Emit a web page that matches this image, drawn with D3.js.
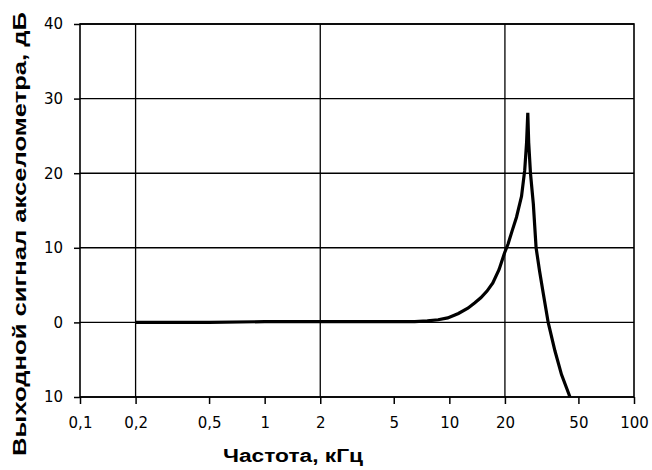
<!DOCTYPE html>
<html>
<head>
<meta charset="utf-8">
<script src="https://cdn.jsdelivr.net/npm/d3@7"></script>
<style>
html,body{margin:0;padding:0;background:#fff;}
svg{display:block;}
</style>
</head>
<body>
<svg id="chart" width="652" height="470"></svg>
<script>
// Data
const freqKHz = [0.2, 0.5, 1, 2, 5, 6.5, 7.6, 8.7, 9.8, 11.2, 12.6, 13.7, 14.8, 16, 17.2, 18.6, 19.9, 20.8, 21.9, 23.1, 24.6, 25.6, 26.2, 26.6, 26.9, 27.5, 28.5, 29.5, 30.8, 32.3, 34.3, 37.3, 40.5, 45.0];
const outputDb = [0, 0, 0.1, 0.1, 0.1, 0.1, 0.2, 0.35, 0.6, 1.2, 1.9, 2.6, 3.3, 4.2, 5.3, 7.1, 9.3, 10.5, 12.3, 14.1, 16.9, 20.4, 24.1, 28.1, 24.1, 20.0, 15.9, 10.0, 6.9, 3.8, 0, -3.8, -7.0, -10];
const xTickValues = [0.1, 0.2, 0.5, 1, 2, 5, 10, 20, 50, 100];
const xTickLabels = ["0,1", "0,2", "0,5", "1", "2", "5", "10", "20", "50", "100"];
const xGridValues = [0.2, 2, 20];
const yTickValues = [-10, 0, 10, 20, 30, 40];
const yTickLabels = ["10", "0", "10", "20", "30", "40"];
const xTitle = "Частота, кГц";
const yTitle = "Выходной сигнал акселометра, дБ";

const svg = d3.select("#chart");
const pLeft = 80, pRight = 634, pTop = 24, pBottom = 397;

const x = d3.scaleLog().domain([0.1, 100]).range([pLeft, pRight]);
const y = d3.scaleLinear().domain([-10, 40]).range([pBottom, pTop]);

// horizontal gridlines
svg.append("g").selectAll("line").data(yTickValues).join("line")
  .attr("x1", pLeft).attr("x2", pRight)
  .attr("y1", d => y(d)).attr("y2", d => y(d))
  .attr("stroke", "#000").attr("stroke-width", 1.4);

// vertical gridlines
svg.append("g").selectAll("line").data(xGridValues).join("line")
  .attr("x1", d => x(d)).attr("x2", d => x(d))
  .attr("y1", pTop).attr("y2", pBottom)
  .attr("stroke", "#000").attr("stroke-width", 1.3);

// frame
svg.append("rect").attr("x", pLeft).attr("y", pTop)
  .attr("width", pRight - pLeft).attr("height", pBottom - pTop)
  .attr("fill", "none").attr("stroke", "#000").attr("stroke-width", 1.6);

// axes
const xAxis = d3.axisBottom(x).tickValues(xTickValues)
  .tickFormat((d, i) => xTickLabels[i]).tickSize(7).tickSizeOuter(0).tickPadding(13);
const gx = svg.append("g").attr("transform", `translate(0,${pBottom})`).call(xAxis);
gx.select(".domain").remove();
gx.selectAll(".tick line").attr("stroke", "#000").attr("stroke-width", 1.5);
gx.selectAll(".tick text").attr("font-family", "DejaVu Sans, sans-serif")
  .attr("font-size", 15).attr("fill", "#000");

const yAxis = d3.axisLeft(y).tickValues(yTickValues)
  .tickFormat((d, i) => yTickLabels[i]).tickSize(6).tickSizeOuter(0).tickPadding(11);
const gy = svg.append("g").attr("transform", `translate(${pLeft},0)`).call(yAxis);
gy.select(".domain").remove();
gy.selectAll(".tick line").attr("stroke", "#000").attr("stroke-width", 1.5);
gy.selectAll(".tick text").attr("font-family", "DejaVu Sans, sans-serif")
  .attr("font-size", 15).attr("fill", "#000");

// curve
const pts = freqKHz.map((f, i) => [f, outputDb[i]]);
const line = d3.line().x(d => x(d[0])).y(d => y(d[1])).curve(d3.curveLinear);
svg.append("path").datum(pts).attr("d", line)
  .attr("fill", "none").attr("stroke", "#000").attr("stroke-width", 3.2)
  .attr("stroke-linejoin", "miter").attr("stroke-miterlimit", 10);

// titles
svg.append("text").attr("x", 293).attr("y", 462)
  .attr("text-anchor", "middle")
  .attr("font-family", "Liberation Sans, Arial, sans-serif")
  .attr("font-weight", "bold").attr("font-size", 18)
  .attr("textLength", 140).attr("lengthAdjust", "spacingAndGlyphs")
  .text(xTitle);

svg.append("text")
  .attr("transform", "translate(26,234) rotate(-90)")
  .attr("text-anchor", "middle")
  .attr("font-family", "Liberation Sans, Arial, sans-serif")
  .attr("font-weight", "bold").attr("font-size", 18)
  .attr("textLength", 444).attr("lengthAdjust", "spacingAndGlyphs")
  .text(yTitle);
</script>
</body>
</html>
